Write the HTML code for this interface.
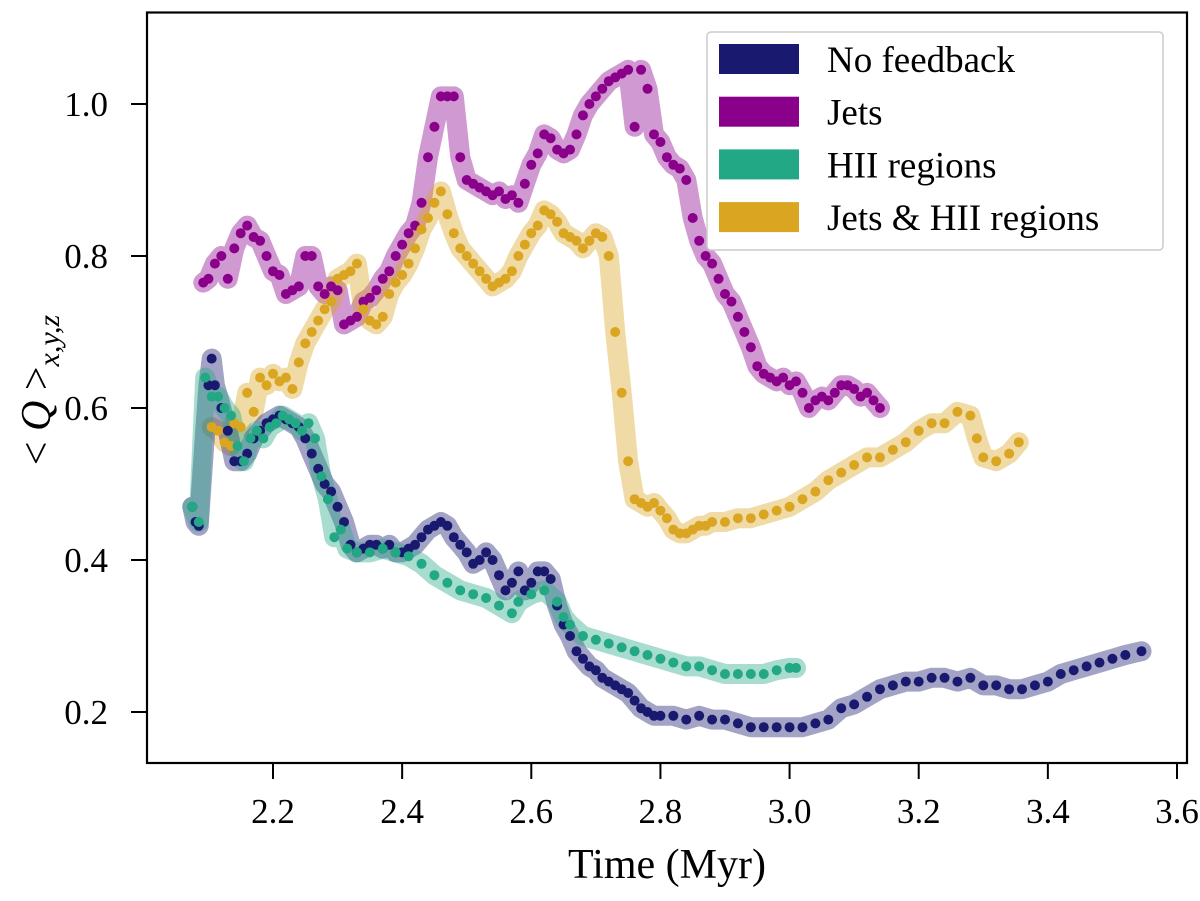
<!DOCTYPE html>
<html><head><meta charset="utf-8"><style>
html,body{margin:0;padding:0;background:#fff;}
svg text{font-family:"Liberation Serif",serif;fill:#000;}
</style></head><body>
<svg id="chart" width="1200" height="896" xmlns="http://www.w3.org/2000/svg">
<g id="series"></g>
<rect x="147" y="12.5" width="1040" height="750.5" fill="none" stroke="#000" stroke-width="2.2"/>
<g id="axes"></g>
<text x="667" y="878" font-size="42" text-anchor="middle">Time (Myr)</text>
<text transform="translate(50,390) rotate(-90)" font-size="42" text-anchor="middle">&lt; <tspan font-style="italic">Q</tspan> &gt;<tspan font-size="30" font-style="italic" dy="9">x,y,z</tspan></text>
<g id="legend">
<rect x="707" y="32" width="456" height="218" rx="4" fill="#fff" stroke="#ccc" stroke-width="1.5"/>
</g>
</svg>
<script>
const xTicks=[2.2,2.4,2.6,2.8,3.0,3.2,3.4,3.6];
const xTickLabels=["2.2","2.4","2.6","2.8","3.0","3.2","3.4","3.6"];
const yTicks=[0.2,0.4,0.6,0.8,1.0];
const yTickLabels=["0.2","0.4","0.6","0.8","1.0"];
const seriesNames=["No feedback","Jets","HII regions","Jets & HII regions"];
const noFbT=[2.075,2.08,2.085,2.10,2.105,2.11,2.12,2.13,2.14,2.15,2.16,2.17,2.18,2.19,2.20,2.21,2.22,2.23,2.24,2.25,2.26,2.27,2.28,2.29,2.30,2.31,2.32,2.33,2.34,2.35,2.36,2.37,2.38,2.39,2.40,2.41,2.42,2.43,2.44,2.45,2.46,2.47,2.48,2.49,2.50,2.51,2.52,2.53,2.54,2.55,2.56,2.57,2.58,2.59,2.60,2.61,2.62,2.63,2.64,2.65,2.66,2.67,2.68,2.69,2.70,2.71,2.72,2.73,2.74,2.75,2.76,2.77,2.78,2.79,2.80,2.82,2.84,2.86,2.88,2.90,2.92,2.94,2.96,2.98,3.00,3.02,3.04,3.06,3.08,3.10,3.12,3.14,3.16,3.18,3.20,3.22,3.24,3.26,3.28,3.30,3.32,3.34,3.36,3.38,3.40,3.42,3.44,3.46,3.48,3.50,3.52,3.545];
const noFbQ=[0.47,0.45,0.445,0.63,0.665,0.63,0.60,0.57,0.53,0.53,0.54,0.56,0.57,0.58,0.585,0.59,0.585,0.58,0.575,0.56,0.54,0.52,0.50,0.49,0.47,0.45,0.42,0.41,0.415,0.42,0.42,0.415,0.42,0.41,0.41,0.415,0.42,0.43,0.44,0.445,0.45,0.445,0.43,0.42,0.41,0.395,0.40,0.41,0.40,0.38,0.36,0.37,0.385,0.36,0.37,0.385,0.385,0.375,0.34,0.315,0.30,0.28,0.27,0.26,0.255,0.245,0.24,0.235,0.23,0.225,0.215,0.205,0.20,0.195,0.195,0.195,0.19,0.195,0.19,0.19,0.185,0.18,0.18,0.18,0.18,0.18,0.185,0.19,0.205,0.21,0.22,0.23,0.235,0.24,0.24,0.245,0.245,0.24,0.245,0.235,0.235,0.23,0.23,0.235,0.24,0.25,0.255,0.26,0.265,0.27,0.275,0.28];
const jetsT=[2.092,2.10,2.11,2.12,2.13,2.14,2.15,2.16,2.17,2.18,2.19,2.20,2.21,2.22,2.23,2.24,2.25,2.26,2.27,2.28,2.29,2.30,2.31,2.32,2.33,2.34,2.35,2.36,2.37,2.38,2.39,2.40,2.41,2.42,2.43,2.44,2.45,2.46,2.47,2.48,2.49,2.50,2.51,2.52,2.53,2.54,2.55,2.56,2.57,2.58,2.59,2.60,2.61,2.62,2.63,2.64,2.65,2.66,2.67,2.68,2.69,2.70,2.71,2.72,2.73,2.74,2.75,2.76,2.77,2.78,2.79,2.80,2.81,2.82,2.83,2.84,2.85,2.86,2.87,2.88,2.89,2.90,2.91,2.92,2.93,2.94,2.95,2.96,2.97,2.98,2.99,3.00,3.01,3.02,3.03,3.04,3.05,3.06,3.07,3.08,3.09,3.10,3.11,3.12,3.13,3.14];
const jetsQ=[0.765,0.77,0.79,0.80,0.77,0.81,0.83,0.84,0.825,0.82,0.80,0.78,0.775,0.75,0.755,0.76,0.80,0.80,0.76,0.75,0.76,0.755,0.71,0.715,0.72,0.74,0.745,0.755,0.77,0.78,0.80,0.815,0.83,0.84,0.87,0.93,0.97,1.01,1.01,1.01,0.93,0.90,0.895,0.89,0.885,0.88,0.885,0.875,0.88,0.87,0.895,0.92,0.935,0.96,0.955,0.94,0.935,0.94,0.96,0.985,1.00,1.01,1.02,1.03,1.035,1.04,1.045,0.97,1.045,1.02,0.96,0.95,0.93,0.92,0.915,0.90,0.85,0.82,0.80,0.79,0.77,0.75,0.74,0.72,0.70,0.68,0.655,0.645,0.64,0.635,0.64,0.63,0.635,0.62,0.60,0.61,0.615,0.61,0.62,0.63,0.63,0.625,0.615,0.62,0.61,0.60];
const hiiT=[2.075,2.085,2.095,2.105,2.115,2.125,2.135,2.145,2.155,2.165,2.175,2.185,2.195,2.205,2.215,2.225,2.235,2.245,2.255,2.265,2.275,2.285,2.295,2.305,2.315,2.33,2.35,2.37,2.39,2.41,2.43,2.45,2.47,2.49,2.51,2.53,2.55,2.57,2.58,2.60,2.62,2.64,2.65,2.66,2.68,2.70,2.72,2.74,2.76,2.78,2.80,2.82,2.84,2.86,2.88,2.90,2.92,2.94,2.96,2.98,3.00,3.01];
const hiiQ=[0.47,0.45,0.64,0.615,0.615,0.60,0.59,0.55,0.53,0.56,0.57,0.56,0.575,0.58,0.59,0.585,0.58,0.57,0.58,0.56,0.51,0.48,0.43,0.44,0.415,0.41,0.41,0.415,0.41,0.405,0.395,0.38,0.37,0.36,0.355,0.35,0.34,0.33,0.345,0.355,0.36,0.345,0.325,0.315,0.30,0.295,0.29,0.285,0.28,0.275,0.27,0.265,0.26,0.26,0.255,0.25,0.25,0.25,0.25,0.255,0.258,0.258];
const bothT=[2.105,2.115,2.125,2.135,2.14,2.15,2.16,2.17,2.18,2.19,2.20,2.21,2.22,2.23,2.24,2.25,2.26,2.27,2.28,2.29,2.30,2.31,2.32,2.33,2.34,2.35,2.36,2.37,2.38,2.39,2.40,2.41,2.42,2.43,2.44,2.45,2.46,2.47,2.48,2.49,2.50,2.51,2.52,2.53,2.54,2.55,2.56,2.57,2.58,2.59,2.60,2.61,2.62,2.63,2.64,2.65,2.66,2.67,2.68,2.69,2.70,2.71,2.72,2.73,2.74,2.75,2.76,2.77,2.78,2.79,2.80,2.81,2.82,2.83,2.84,2.85,2.86,2.87,2.88,2.90,2.92,2.94,2.96,2.98,3.00,3.02,3.04,3.06,3.08,3.10,3.12,3.14,3.16,3.18,3.20,3.22,3.24,3.26,3.28,3.29,3.30,3.32,3.34,3.355];
const bothQ=[0.575,0.57,0.555,0.55,0.58,0.575,0.62,0.595,0.64,0.63,0.645,0.635,0.64,0.625,0.66,0.685,0.70,0.715,0.73,0.74,0.77,0.775,0.78,0.79,0.73,0.715,0.71,0.72,0.75,0.765,0.775,0.79,0.81,0.835,0.85,0.87,0.885,0.855,0.83,0.81,0.80,0.79,0.78,0.77,0.76,0.765,0.77,0.78,0.80,0.815,0.83,0.84,0.86,0.855,0.845,0.83,0.825,0.82,0.81,0.82,0.83,0.825,0.80,0.70,0.62,0.53,0.48,0.475,0.47,0.475,0.465,0.455,0.44,0.435,0.435,0.44,0.445,0.445,0.45,0.45,0.455,0.455,0.46,0.465,0.47,0.48,0.49,0.505,0.515,0.525,0.535,0.535,0.545,0.555,0.57,0.58,0.58,0.595,0.59,0.56,0.535,0.53,0.54,0.555];

const NS="http://www.w3.org/2000/svg";
const X0=147,X1=1187,Y0=12.5,Y1=763;
const xMin=2.2-(273-147)/645.7, xMax=3.6+(1187-1177)/645.7;
const yMin=0.2-(763-712)/760, yMax=1.0+(104-12.5)/760;
function sx(t){return X0+(t-xMin)/(xMax-xMin)*(X1-X0);}
function sy(v){return Y1-(v-yMin)/(yMax-yMin)*(Y1-Y0);}
function mk(tag,attrs,parent){const e=document.createElementNS(NS,tag);for(const k in attrs)e.setAttribute(k,attrs[k]);parent.appendChild(e);return e;}

const axes=document.getElementById('axes');
xTicks.forEach((t,i)=>{
  const l=mk('line',{x1:sx(t),x2:sx(t),y1:Y1,y2:Y1+16,stroke:'#000','stroke-width':2},axes);
  
  
  const tx=mk('text',{x:sx(t),y:Y1+60,'font-size':35,'text-anchor':'middle'},axes);
  tx.textContent=xTickLabels[i];
  
  
});
yTicks.forEach((v,i)=>{
  const l=mk('line',{x1:X0-16,x2:X0,y1:sy(v),y2:sy(v),stroke:'#000','stroke-width':2},axes);
  
  
  const tx=mk('text',{x:X0-39,y:sy(v)+12,'font-size':35,'text-anchor':'end'},axes);
  tx.textContent=yTickLabels[i];
  
  
});

const colors=["#191970","#8b008b","#22a884","#daa520"];
const series=[[noFbT,noFbQ],[jetsT,jetsQ],[hiiT,hiiQ],[bothT,bothQ]];
const slugs=["no-feedback","jets","hii-regions","jets-hii-regions"];
const g=document.getElementById('series');
const order=[1,3,0,2];
order.forEach(si=>{
  const [T,Q]=series[si];
  const d=T.map((t,i)=>(i?'L':'M')+sx(t).toFixed(1)+','+sy(Q[i]).toFixed(1)).join('');
  const band=mk('path',{d:d,fill:'none',stroke:colors[si],'stroke-opacity':0.4,'stroke-width':20,'stroke-linejoin':'round','stroke-linecap':'round'},g);
  
  
});
order.forEach(si=>{
  const [T,Q]=series[si];
  const dg=mk('g',{},g);
  
  
  T.forEach((t,i)=>{
    const c=mk('circle',{cx:sx(t),cy:sy(Q[i]),r:5,fill:colors[si]},dg);
    
    
  });
});

const lg=document.getElementById('legend');
seriesNames.forEach((n,i)=>{
  const cy=59+i*52.7;
  const r=mk('rect',{x:719,y:cy-15,width:80,height:30,fill:colors[i]},lg);
  
  
  const tx=mk('text',{x:827,y:cy+13,'font-size':37},lg);
  tx.textContent=n;
  
  
});
</script>
</body></html>
